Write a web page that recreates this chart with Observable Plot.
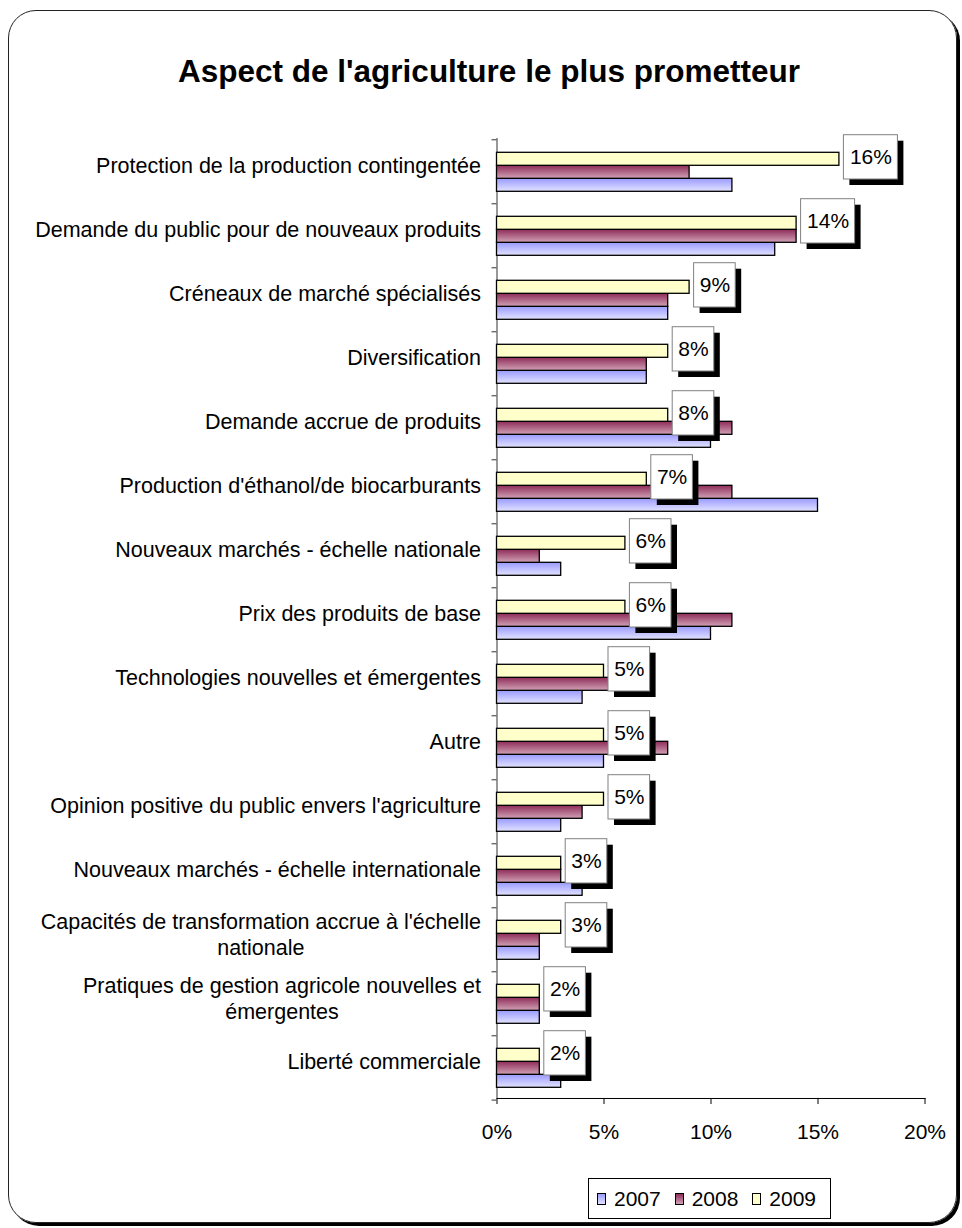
<!DOCTYPE html>
<html>
<head>
<meta charset="utf-8">
<script src="https://cdn.jsdelivr.net/npm/d3@7"></script>
<script src="https://cdn.jsdelivr.net/npm/@observablehq/plot@0.6"></script>
<style>
html, body { margin: 0; padding: 0; background: #fff; overflow: hidden; }
#wrap { position: relative; width: 962px; height: 1228px; font-family: "Liberation Sans", Arial, sans-serif; color: #000; }
#frame { position: absolute; left: 8px; top: 10px; width: 947px; height: 1211px; border: 1.5px solid #222; border-radius: 28px; box-shadow: 3px 3px 0 #000; }
#title { position: absolute; left: 16px; width: 946px; top: 53px; text-align: center; font-weight: bold; font-size: 31.5px; line-height: 36px; }
#chart { position: absolute; left: 0; top: 110px; }
#legend { position: absolute; left: 588px; top: 1178px; width: 243px; height: 41px; box-sizing: border-box; border: 1px solid #000; display: flex; align-items: center; padding-left: 8px; font-size: 21px; }
#legend .sw { width: 12px; height: 12px; box-sizing: border-box; border: 1.3px solid #000; margin-right: 8px; }
#legend .lb { margin-right: 14px; }
</style>
</head>
<body>
<div id="wrap">
  <div id="frame"></div>
  <div id="title"></div>
  <div id="chart"></div>
  <div id="legend"></div>
</div>
<script>
// ---- data ----
const title = "Aspect de l'agriculture le plus prometteur";
const categories = [
  "Protection de la production contingentée",
  "Demande du public pour de nouveaux produits",
  "Créneaux de marché spécialisés",
  "Diversification",
  "Demande accrue de produits",
  "Production d'éthanol/de biocarburants",
  "Nouveaux marchés - échelle nationale",
  "Prix des produits de base",
  "Technologies nouvelles et émergentes",
  "Autre",
  "Opinion positive du public envers l'agriculture",
  "Nouveaux marchés - échelle internationale",
  "Capacités de transformation accrue à l'échelle nationale",
  "Pratiques de gestion agricole nouvelles et émergentes",
  "Liberté commerciale"
];
const categoryLabels = [
  "Protection de la production contingentée",
  "Demande du public pour de nouveaux produits",
  "Créneaux de marché spécialisés",
  "Diversification",
  "Demande accrue de produits",
  "Production d'éthanol/de biocarburants",
  "Nouveaux marchés - échelle nationale",
  "Prix des produits de base",
  "Technologies nouvelles et émergentes",
  "Autre",
  "Opinion positive du public envers l'agriculture",
  "Nouveaux marchés - échelle internationale",
  "Capacités de transformation accrue à l'échelle\nnationale",
  "Pratiques de gestion agricole nouvelles et\némergentes",
  "Liberté commerciale"
];
const years = ["2007", "2008", "2009"];
const values2007 = [11, 13, 8, 7, 10, 15, 3, 10, 4, 5, 3, 4, 2, 2, 3];
const values2008 = [9, 14, 8, 7, 11, 11, 2, 11, 6, 8, 4, 3, 2, 2, 2];
const values2009 = [16, 14, 9, 8, 8, 7, 6, 6, 5, 5, 5, 3, 3, 2, 2];
const xTicks = [0, 5, 10, 15, 20];

// ---- styles ----
const fills = {"2007": "url(#gBlue)", "2008": "url(#gPurple)", "2009": "url(#gYellow)"};
const cssFills = {
  "2007": "linear-gradient(#9a9aff, #e2e2ff)",
  "2008": "linear-gradient(#8e2c58, #d2a2b6)",
  "2009": "#ffffcc"
};
const FONT = "'Liberation Sans', Arial, sans-serif";
const LABEL_SIZE = 21.5;

document.getElementById("title").textContent = title;

// ---- table ----
const series = {"2007": values2007, "2008": values2008, "2009": values2009};
const rows = categories.flatMap((c, i) => years.map(y => ({cat: c, year: y, v: series[y][i]})));
const labelRows = categories.map((c, i) => ({cat: c, label: categoryLabels[i], lines: categoryLabels[i].split("\n")}));
const singleRows = labelRows.filter(d => d.lines.length === 1);
const multiRows = labelRows.filter(d => d.lines.length > 1);
const boxRows = rows.filter(d => d.year === "2009");

const ctx = document.createElement("canvas").getContext("2d");
ctx.font = LABEL_SIZE + "px " + FONT;
const measure = s => ctx.measureText(s).width;

const LABEL_DX = -16;
const yellowCenter = 19.51; // center of top bar relative to facet top

function boxMarks(data, W) {
  const common = {x1: "v", x2: "v", y: () => "2009", fy: "cat",
    insetLeft: 4.5, insetRight: -(4.5 + W), insetTop: -17.6, insetBottom: -13.7};
  return [
    Plot.barX(data, {...common, fill: "#000", dx: 6, dy: 6}),
    Plot.barX(data, {...common, fill: "#fff", stroke: "#808080", strokeWidth: 1}),
    Plot.text(data, {x: "v", y: () => "2009", fy: "cat", text: d => d.v + "%",
      dx: 4.5 + W / 2, dy: -2, textAnchor: "middle", fontSize: 21, fill: "#000"})
  ];
}

const marks = [
  Plot.ruleX([0], {stroke: "#333", strokeWidth: 1}),
  Plot.ruleY(categories, {fy: d => d, y: () => "2009", x1: 0, x2: 0, insetLeft: -5, dy: -yellowCenter, stroke: "#333"}),
  Plot.ruleY(categories.slice(-1), {fy: d => d, y: () => "2009", x1: 0, x2: 0, insetLeft: -5, dy: 64.3 - yellowCenter, stroke: "#333"}),
  ...years.map(y => Plot.barX(rows.filter(d => d.year === y), {
    x: "v", y: "year", fy: "cat", fill: fills[y], stroke: "#000", strokeWidth: 1.3
  })),
  ...boxMarks(boxRows.filter(d => d.v >= 10), 54),
  ...boxMarks(boxRows.filter(d => d.v < 10), 41.6),
  Plot.text(singleRows, {fy: "cat", text: "label", frameAnchor: "left", textAnchor: "end",
    dx: LABEL_DX, dy: -4, fontSize: LABEL_SIZE, fill: "#000"}),
  ...multiRows.flatMap(d => {
    const w1 = measure(d.lines[0]);
    return [
      Plot.text([d], {fy: "cat", text: r => r.lines[0], frameAnchor: "left", textAnchor: "middle",
        dx: LABEL_DX - w1 / 2, dy: -15.9, fontSize: LABEL_SIZE, fill: "#000"}),
      Plot.text([d], {fy: "cat", text: r => r.lines[1], frameAnchor: "left", textAnchor: "middle",
        dx: LABEL_DX - w1 / 2, dy: 9.6, fontSize: LABEL_SIZE, fill: "#000"})
    ];
  })
];

const plot = Plot.plot({
  width: 962,
  height: 1060,
  marginLeft: 496.5,
  marginRight: 37.5,
  marginTop: 25.7,
  marginBottom: 69.7,
  style: {fontFamily: FONT, fontSize: "21px", color: "#000", background: "transparent", overflow: "visible"},
  facet: {marginTop: 0, marginRight: 0, marginBottom: 0, marginLeft: 0},
  x: {domain: [0, 20], ticks: xTicks.length - 1, tickFormat: d => d + "%", tickSize: 6, tickPadding: 20, label: null, line: true},
  y: {domain: ["2009", "2008", "2007"], paddingInner: 0, paddingOuter: 0.8, align: 0.56, axis: null},
  fy: {domain: categories, padding: 0, axis: null, label: null},
  marks
});

// gradient definitions
const svgNode = plot.tagName.toLowerCase() === "svg" ? plot : plot.querySelector("svg");
const defs = d3.select(svgNode).insert("defs", ":first-child");
function grad(id, c0, c1) {
  const g = defs.append("linearGradient").attr("id", id).attr("x1", 0).attr("y1", 0).attr("x2", 0).attr("y2", 1);
  g.append("stop").attr("offset", 0).attr("stop-color", c0);
  g.append("stop").attr("offset", 1).attr("stop-color", c1);
}
grad("gBlue", "#9a9aff", "#e2e2ff");
grad("gPurple", "#8e2c58", "#d2a2b6");
grad("gYellow", "#ffffcc", "#ffffcc");

document.getElementById("chart").appendChild(plot);

// legend
const legend = document.getElementById("legend");
years.forEach(y => {
  const sw = document.createElement("div");
  sw.className = "sw";
  sw.style.background = cssFills[y];
  const lb = document.createElement("div");
  lb.className = "lb";
  lb.textContent = y;
  legend.appendChild(sw);
  legend.appendChild(lb);
});
</script>
</body>
</html>
